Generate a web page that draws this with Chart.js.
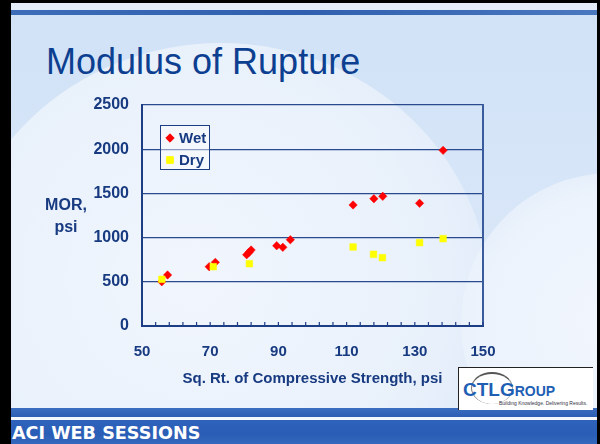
<!DOCTYPE html>
<html>
<head>
<meta charset="utf-8">
<script src="https://cdn.jsdelivr.net/npm/chart.js@4/dist/chart.umd.min.js"></script>
<style>
  html, body { margin:0; padding:0; width:600px; height:444px; overflow:hidden; background:#000; }
  #slide { position:absolute; left:11px; top:3px; width:586px; height:441px; overflow:hidden;
    background: linear-gradient(180deg, #d1e2f7 0%, #d9e7f8 60%, #dfeaf8 100%); }
  #swoosh { position:absolute; left:-60px; top:40px; width:540px; height:520px; border-radius:50%;
    background: radial-gradient(ellipse at 45% 45%, #f1f6fd 0%, #e9f1fb 55%, #dbe8f8 92%, rgba(210,226,246,0) 100%); }
  #swoosh2 { position:absolute; left:450px; top:170px; width:300px; height:300px; border-radius:50%;
    background: radial-gradient(circle, #f1f6fd 0%, #ecf3fc 60%, rgba(235,242,252,0) 100%); }
  #topstripe { position:absolute; left:0; top:7px; width:586px; height:5px;
    background: linear-gradient(90deg, #3d6cb8, #2f5fae 50%, #4a78c0); }
  #topwhite { position:absolute; left:0; top:0; width:586px; height:7px; background:#e4edf9; }
  #band1 { position:absolute; left:0; top:405px; width:586px; height:9px;
    background: linear-gradient(180deg, #3b6ec0, #2c5fb4); }
  #bandw { position:absolute; left:0; top:414px; width:586px; height:3px; background:#f4f8fd; }
  #band2 { position:absolute; left:0; top:417px; width:586px; height:24px;
    background: linear-gradient(180deg, #2f63bb, #2a5db5 60%, #3468bd); }
  #aci { position:absolute; left:1px; top:418px; font-family:"DejaVu Sans", sans-serif; font-weight:bold;
    font-size:17.6px; color:#ffffff; white-space:nowrap; line-height:24px; }
  #logo { position:absolute; left:447px; top:364px; width:134px; height:42px; background:#ffffff;
    border-left:1px solid #222; border-top:1px solid #222; overflow:hidden; }
  #arc { position:absolute; left:12px; top:4px; width:40px; height:30px; border-radius:50%;
    border-top:2px solid #555; border-left:1px solid #777; border-right:1px solid #999; }
  #logotxt { position:absolute; left:4px; top:11px; font-family:"Liberation Sans", Arial, sans-serif;
    font-weight:900; color:#1e5fb4; white-space:nowrap; }
  #tag { position:absolute; left:40px; top:32px; font-family:"Liberation Sans", sans-serif; font-size:5px;
    color:#334; white-space:nowrap; }
  #title { position:absolute; left:35px; top:38px; font-family:"Liberation Sans", Arial, sans-serif;
    font-size:36px; color:#0d3f91; white-space:nowrap; line-height:42px; }
  #c { position:absolute; left:0; top:0; }
</style>
</head>
<body>
<div id="slide">
  <div id="swoosh"></div>
  <div id="swoosh2"></div>
  <div id="topwhite"></div>
  <div id="topstripe"></div>
  <div id="title">Modulus of Rupture</div>
  <div id="band1"></div>
  <div id="bandw"></div>
  <div id="band2"></div>
  <div id="aci">ACI WEB SESSIONS</div>
  <div id="logo">
    <div id="arc"></div>
    <div id="logotxt"><span style="font-size:19px">CTL</span><span style="font-size:19px">G</span><span style="font-size:14px">ROUP</span></div>
    <div id="tag">Building Knowledge. Delivering Results.</div>
  </div>
</div>
<canvas id="c" width="600" height="444"></canvas>
<script>
// ---- data ----
const seriesNames = ["Wet", "Dry"];
const wetX = [55.8, 57.5, 69.7, 71.5, 80.7, 81.4, 82.0, 89.5, 91.3, 93.5, 111.9, 118.0, 120.6, 131.4, 138.3];
const wetY = [500, 577, 671, 720, 806, 834, 860, 908, 890, 976, 1369, 1440, 1467, 1388, 1987];
const dryX = [55.8, 70.9, 81.5, 111.9, 117.9, 120.5, 131.4, 138.3];
const dryY = [528, 671, 705, 894, 811, 773, 943, 988];
const xTickLabels = [50, 70, 90, 110, 130, 150];
const yTickLabels = [0, 500, 1000, 1500, 2000, 2500];
const xTitle = "Sq. Rt. of Compressive Strength, psi";
const yTitleLines = ["MOR,", "psi"];

const NAVY = "#1d3d85";
const TXT = "#173a80";
const FONT = "'Liberation Sans', Arial, sans-serif";

const toPts = (xs, ys) => xs.map((x, i) => ({ x: x, y: ys[i] }));

const wetStyle = { pointStyle: 'rectRot', pointRadius: 4.2, backgroundColor: '#ff0000', borderColor: '#ff0000', borderWidth: 0.5 };
const dryStyle = { pointStyle: 'rect', pointRadius: 4.7, backgroundColor: '#ffff00', borderColor: '#ffff00', borderWidth: 0.5 };

const decor = {
  id: 'decor',
  afterDatasetsDraw(chart) {
    const ctx = chart.ctx;
    const a = chart.chartArea;
    const xs = chart.scales.x;
    ctx.save();
    // right border
    ctx.strokeStyle = "#3a5b9c";
    ctx.lineWidth = 2;
    ctx.beginPath();
    ctx.moveTo(a.right, a.top - 1);
    ctx.lineTo(a.right, a.bottom);
    ctx.stroke();
    // inner tick marks on x axis
    ctx.strokeStyle = NAVY;
    ctx.lineWidth = 1.2;
    xs.ticks.forEach(t => {
      const px = xs.getPixelForValue(t.value);
      ctx.beginPath();
      ctx.moveTo(px, a.bottom);
      ctx.lineTo(px, a.bottom - 4);
      ctx.stroke();
    });
    // y title (horizontal)
    ctx.fillStyle = TXT;
    ctx.font = "bold 16px " + FONT;
    ctx.textAlign = "center";
    ctx.textBaseline = "middle";
    ctx.fillText(yTitleLines[0], a.left - 76, a.top + 101);
    ctx.fillText(yTitleLines[1], a.left - 76, a.top + 123);
    // legend
    const lx = a.left + 18, ly = a.top + 20, lw = 49, lh = 44;
    ctx.fillStyle = "rgba(255,255,255,0.45)";
    ctx.fillRect(lx, ly, lw, lh);
    ctx.strokeStyle = NAVY;
    ctx.lineWidth = 1;
    ctx.strokeRect(lx + 0.5, ly + 0.5, lw, lh);
    const entries = [[seriesNames[0], wetStyle], [seriesNames[1], dryStyle]];
    entries.forEach((e, i) => {
      const cy = ly + 13 + i * 22;
      ctx.fillStyle = e[1].backgroundColor;
      ctx.strokeStyle = e[1].borderColor;
      Chart.helpers.drawPoint(ctx, { pointStyle: e[1].pointStyle, radius: e[1].pointRadius, borderWidth: 0.5, rotation: 0 }, lx + 10, cy);
      ctx.fillStyle = TXT;
      ctx.font = "bold 15px " + FONT;
      ctx.textAlign = "left";
      ctx.textBaseline = "middle";
      ctx.fillText(e[0], lx + 19, cy + 1);
    });
    ctx.restore();
  }
};

new Chart(document.getElementById('c'), {
  type: 'scatter',
  data: {
    datasets: [
      Object.assign({ label: seriesNames[1], data: toPts(dryX, dryY) }, dryStyle),
      Object.assign({ label: seriesNames[0], data: toPts(wetX, wetY) }, wetStyle)
    ]
  },
  options: {
    responsive: false,
    animation: false,
    events: [],
    layout: { padding: { top: 105, right: 117, left: 0, bottom: 0 } },
    plugins: { legend: { display: false }, tooltip: { enabled: false } },
    scales: {
      x: {
        type: 'linear', min: 50, max: 150,
        afterFit(s) { s.height = 118; },
        border: { display: true, color: NAVY, width: 2 },
        grid: { display: false, drawTicks: false },
        ticks: {
          stepSize: 4, autoSkip: false, maxRotation: 0, padding: 17,
          color: TXT, font: { family: FONT, size: 15, weight: 'bold' },
          callback: v => xTickLabels.includes(v) ? String(v) : ''
        },
        title: { display: true, text: xTitle, color: TXT, font: { family: FONT, size: 15, weight: 'bold' }, padding: { top: 0, bottom: 56 } }
      },
      y: {
        type: 'linear', min: 0, max: 2500,
        afterFit(s) { s.width = 142; },
        border: { display: true, color: NAVY, width: 2 },
        grid: { color: "#2a4a8e", lineWidth: 1.3, drawTicks: false },
        ticks: {
          stepSize: 500, padding: 13, color: TXT,
          font: { family: FONT, size: 16, weight: 'bold' },
          callback: v => yTickLabels.includes(v) ? String(v) : ''
        }
      }
    }
  },
  plugins: [decor]
});
</script>
</body>
</html>
